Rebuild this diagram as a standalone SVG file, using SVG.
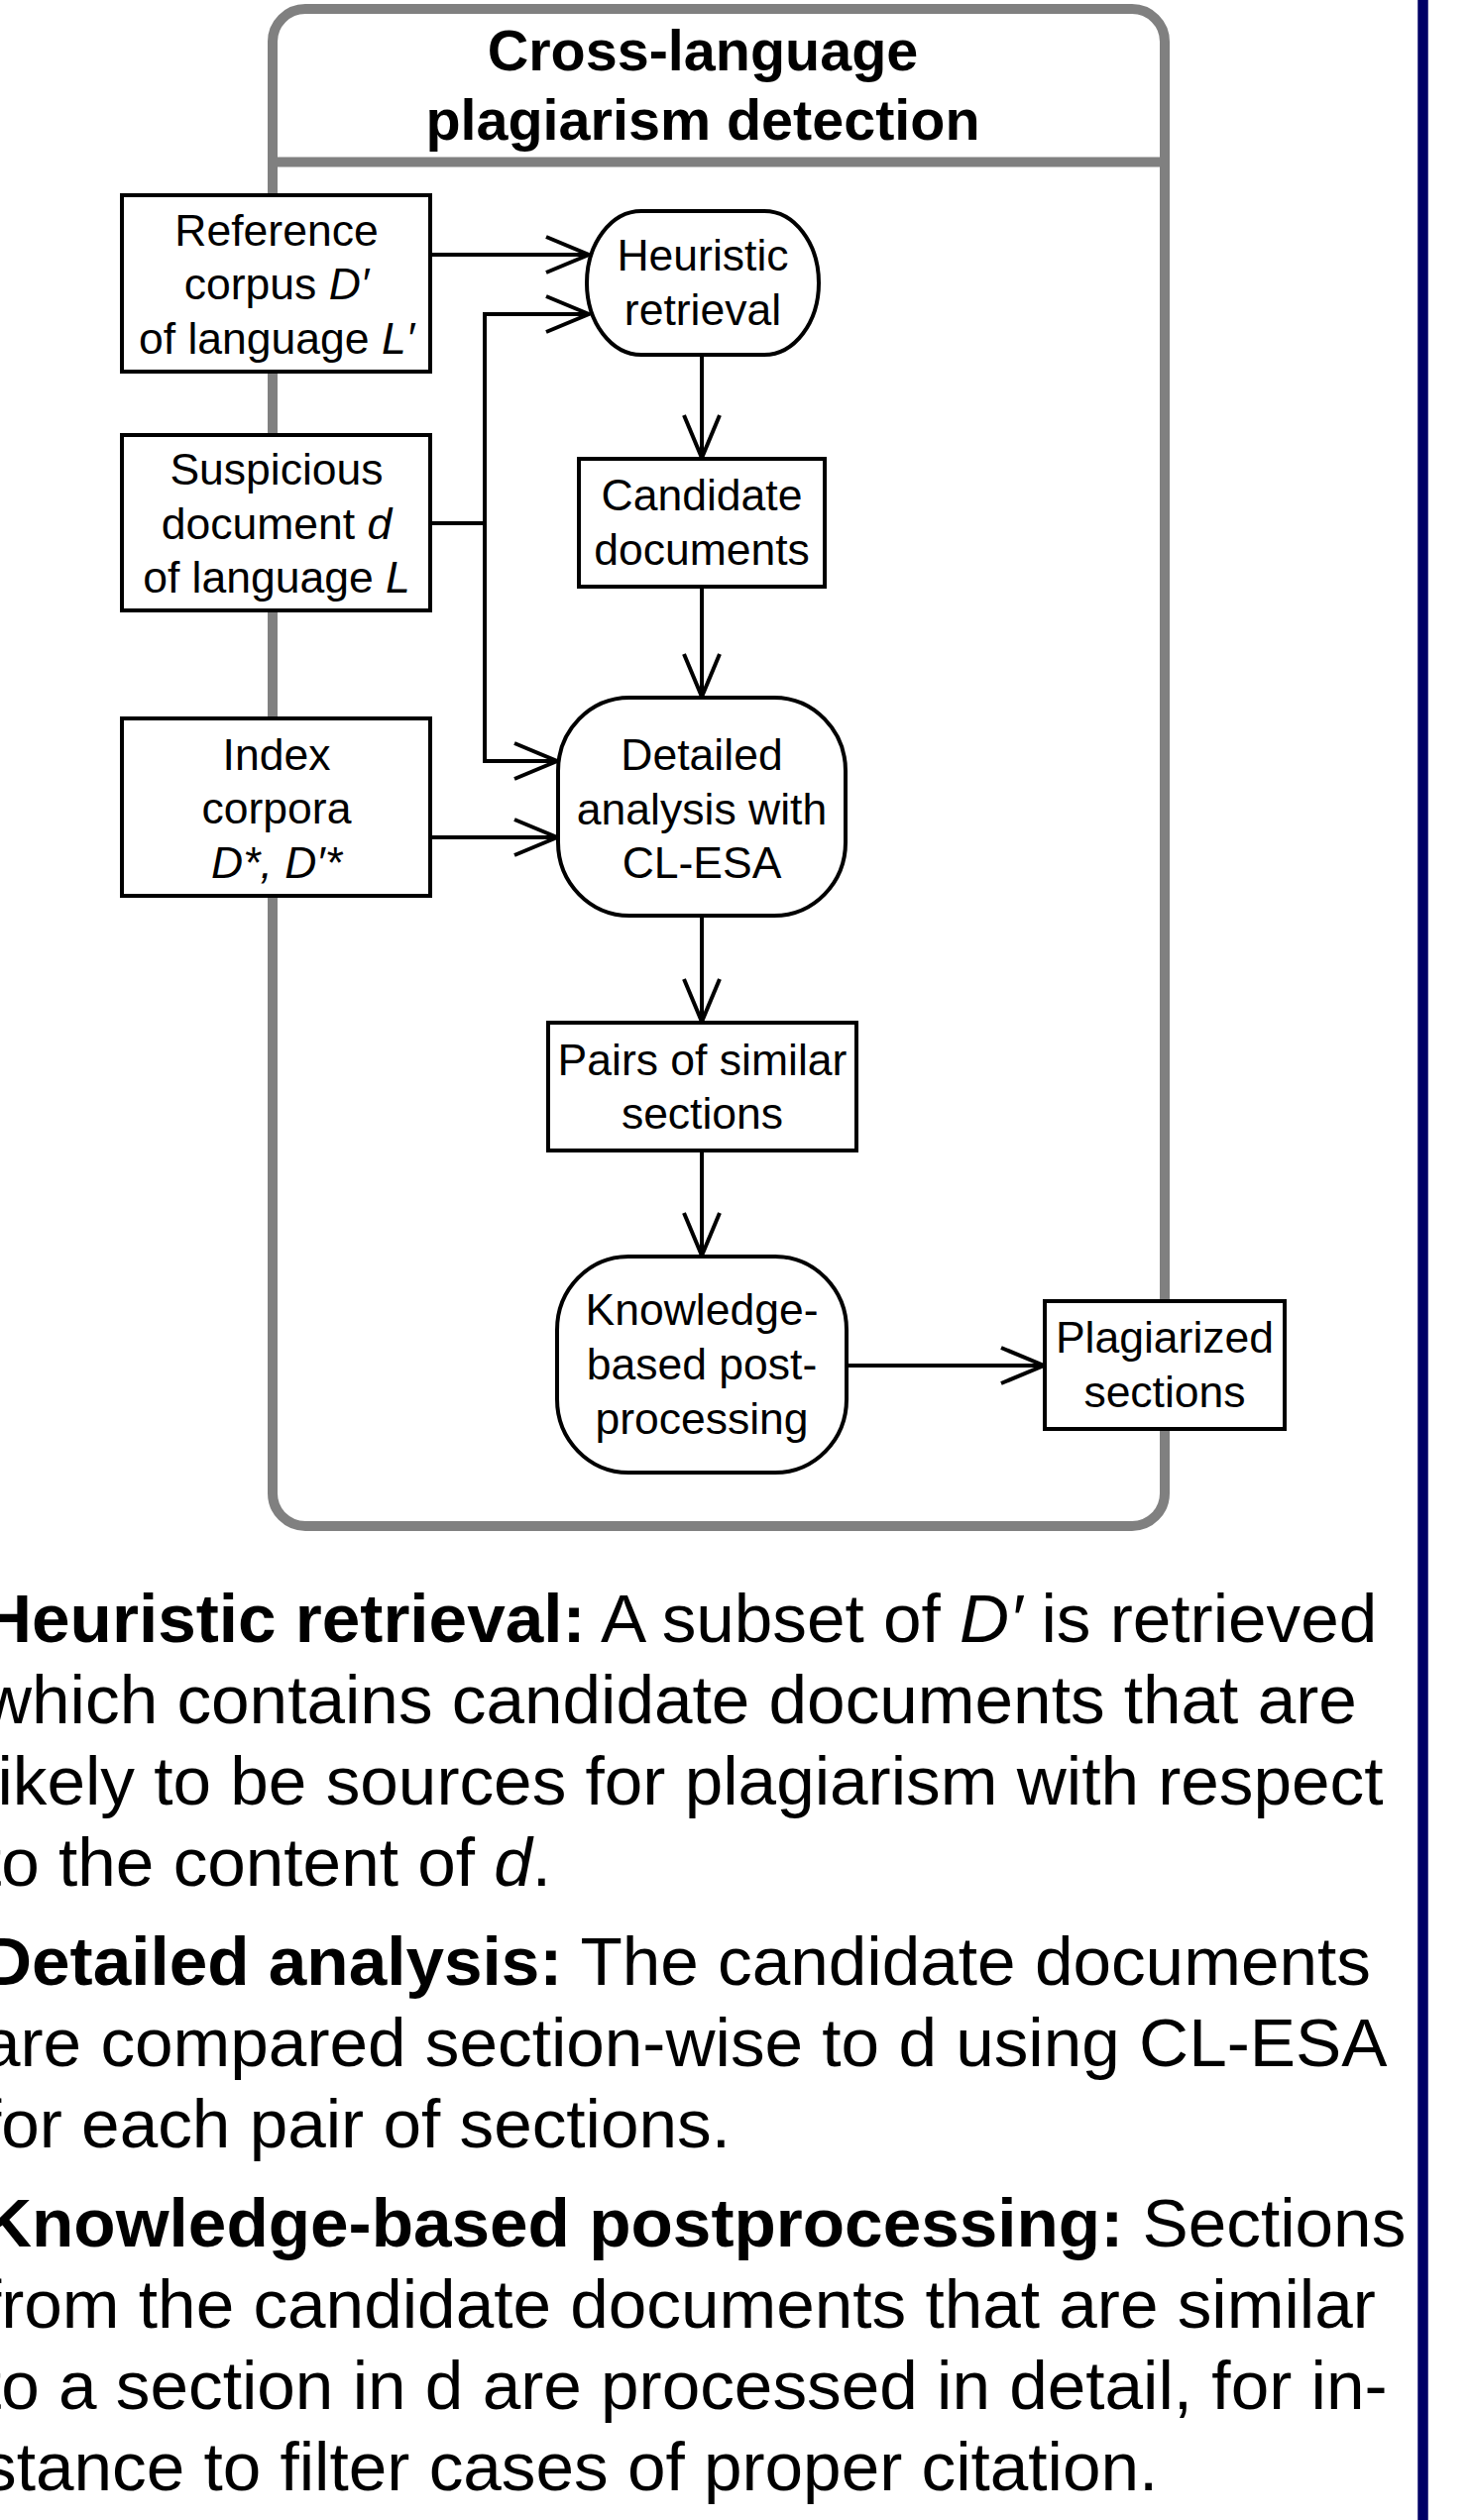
<svg xmlns="http://www.w3.org/2000/svg" width="1485" height="2543" viewBox="0 0 1485 2543">
<style>
.frame{fill:none;stroke:#808080;stroke-width:10}
.box{fill:#fff;stroke:#000;stroke-width:4}
.lbl{font-family:"Liberation Sans",Arial,Helvetica,sans-serif;font-size:44.5px;fill:#000;text-anchor:middle}
.title{font-family:"Liberation Sans",Arial,Helvetica,sans-serif;font-size:57.5px;font-weight:bold;fill:#000;text-anchor:middle}
.body{font-family:"Liberation Sans",Arial,Helvetica,sans-serif;font-size:69.3px;fill:#000}
.b{font-weight:bold}
.i{font-style:italic}
.conn{fill:none;stroke:#000;stroke-width:4}
</style>
<defs>
<marker id="arr" markerUnits="userSpaceOnUse" markerWidth="60" markerHeight="60" viewBox="-50 -25 60 50" refX="0" refY="0" orient="auto">
<path d="M-43,-18 L0,0 L-43,18" fill="none" stroke="#000" stroke-width="4"/>
</marker>
</defs>
<rect width="1485" height="2543" fill="#fff"/>
<g id="container">
<rect class="frame" x="275" y="9" width="900" height="1531" rx="33" ry="33"/>
<line class="frame" x1="275" y1="163.5" x2="1175" y2="163.5"/>
<text class="title" x="709" y="71">Cross-language</text>
<text class="title" x="709" y="141">plagiarism detection</text>
</g>
<line x1="1435.5" y1="0" x2="1435.5" y2="2543" stroke="#000066" stroke-width="10.5"/>
<g id="connectors">
<line class="conn" x1="436" y1="257" x2="594" y2="257" marker-end="url(#arr)"/>
<line class="conn" x1="436" y1="528" x2="489" y2="528"/>
<line class="conn" x1="487" y1="317" x2="594" y2="317" marker-end="url(#arr)"/>
<polyline class="conn" points="489,317 489,768 562,768" marker-end="url(#arr)"/>
<line class="conn" x1="436" y1="845" x2="562" y2="845" marker-end="url(#arr)"/>
<line class="conn" x1="708" y1="358" x2="708" y2="462" marker-end="url(#arr)"/>
<line class="conn" x1="708" y1="592" x2="708" y2="703" marker-end="url(#arr)"/>
<line class="conn" x1="708" y1="924" x2="708" y2="1031" marker-end="url(#arr)"/>
<line class="conn" x1="708" y1="1161" x2="708" y2="1267" marker-end="url(#arr)"/>
<line class="conn" x1="854" y1="1378" x2="1053" y2="1378" marker-end="url(#arr)"/>
</g>
<g id="ref">
<rect class="box" x="123" y="197" width="311" height="178"/>
<text class="lbl" x="279" y="248">Reference</text>
<text class="lbl" x="279" y="302">corpus <tspan class="i">D′</tspan></text>
<text class="lbl" x="279" y="357">of language <tspan class="i">L′</tspan></text>
</g>
<g id="susp">
<rect class="box" x="123" y="439" width="311" height="177"/>
<text class="lbl" x="279" y="489">Suspicious</text>
<text class="lbl" x="279" y="544">document <tspan class="i">d</tspan></text>
<text class="lbl" x="279" y="598">of language <tspan class="i">L</tspan></text>
</g>
<g id="index">
<rect class="box" x="123" y="725" width="311" height="179"/>
<text class="lbl" x="279" y="777">Index</text>
<text class="lbl" x="279" y="831">corpora</text>
<text class="lbl i" x="279" y="886">D*, D′*</text>
</g>
<g id="heuristic">
<rect class="box" x="592" y="213" width="234" height="145" rx="55" ry="72.5"/>
<text class="lbl" x="709" y="273">Heuristic</text>
<text class="lbl" x="709" y="328">retrieval</text>
</g>
<g id="candidate">
<rect class="box" x="584" y="463" width="248" height="129"/>
<text class="lbl" x="708" y="515">Candidate</text>
<text class="lbl" x="708" y="570">documents</text>
</g>
<g id="detailed">
<rect class="box" x="563" y="704" width="290" height="220" rx="72" ry="74"/>
<text class="lbl" x="708" y="777">Detailed</text>
<text class="lbl" x="708" y="832">analysis with</text>
<text class="lbl" x="708" y="886">CL-ESA</text>
</g>
<g id="pairs">
<rect class="box" x="553" y="1032" width="311" height="129"/>
<text class="lbl" x="708.5" y="1085">Pairs of similar</text>
<text class="lbl" x="708.5" y="1139">sections</text>
</g>
<g id="knowledge">
<rect class="box" x="562" y="1268" width="292" height="218" rx="72" ry="74"/>
<text class="lbl" x="708" y="1337">Knowledge-</text>
<text class="lbl" x="708" y="1392">based post-</text>
<text class="lbl" x="708" y="1447">processing</text>
</g>
<g id="plagiarized">
<rect class="box" x="1054" y="1313" width="242" height="129"/>
<text class="lbl" x="1175" y="1365">Plagiarized</text>
<text class="lbl" x="1175" y="1420">sections</text>
</g>
<g id="description">
<text class="body" x="-18" y="1657"><tspan class="b">Heuristic retrieval:</tspan> A subset of <tspan class="i">D′</tspan> is retrieved</text>
<text class="body" x="-18" y="1739">which contains candidate documents that are</text>
<text class="body" x="-18" y="1821">likely to be sources for plagiarism with respect</text>
<text class="body" x="-18" y="1903">to the content of <tspan class="i">d</tspan>.</text>
<text class="body" x="-18" y="2003"><tspan class="b">Detailed analysis:</tspan> The candidate documents</text>
<text class="body" x="-18" y="2085">are compared section-wise to d using CL-ESA</text>
<text class="body" x="-18" y="2167">for each pair of sections.</text>
<text class="body" x="-18" y="2267"><tspan class="b">Knowledge-based postprocessing:</tspan> Sections</text>
<text class="body" x="-18" y="2349">from the candidate documents that are similar</text>
<text class="body" x="-18" y="2431">to a section in d are processed in detail, for in-</text>
<text class="body" x="-18" y="2513">stance to filter cases of proper citation.</text>
</g>
</svg>
